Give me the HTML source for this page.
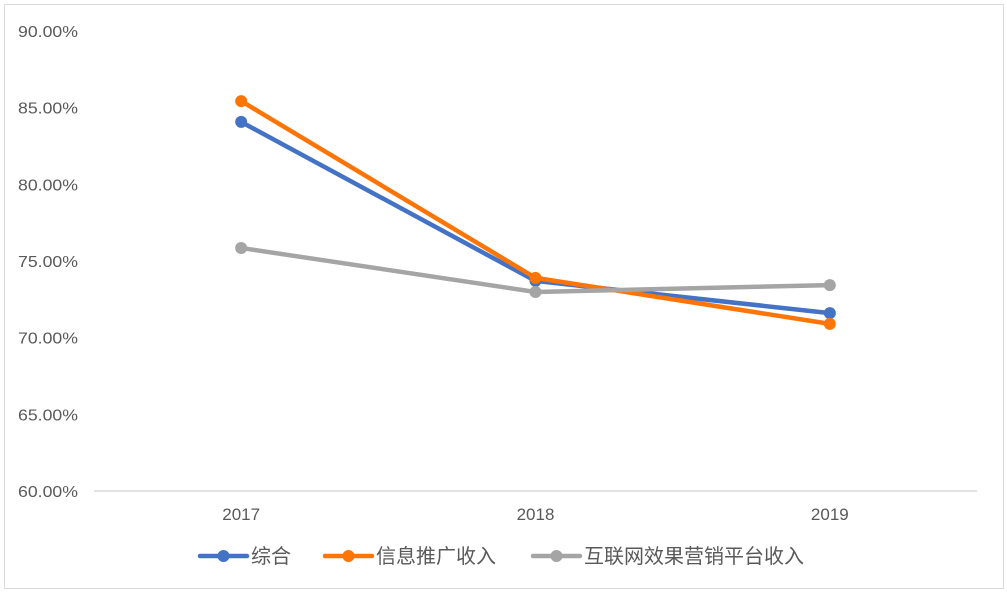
<!DOCTYPE html>
<html><head><meta charset="utf-8"><style>
html,body{margin:0;padding:0;background:#fff;}
svg text{font-family:"Liberation Sans","Noto Sans CJK SC",sans-serif;fill:#595959;}
</style></head><body>
<svg id="chart" width="1007" height="593" xmlns="http://www.w3.org/2000/svg">
<rect x="4.5" y="4.5" width="999" height="584" fill="#fff" stroke="#d9d9d9"/>
<g id="yaxis"></g><g id="xaxis"></g><g id="series"></g><g id="legend"></g>
</svg>
<script>
const categories=["2017","2018","2019"];
const yTicks=[60,65,70,75,80,85,90];
const seriesNames=["综合","信息推广收入","互联网效果营销平台收入"];
const seriesColors=["#4472c4","#fd7507","#a5a5a5"];
const zonghe=[84.07,73.7,71.6];
const xinxi=[85.43,73.9,70.9];
const hulian=[75.85,72.98,73.43];
const allSeries=[zonghe,xinxi,hulian];
const NS="http://www.w3.org/2000/svg";
const x0=94,x1=977,yTop=31,yBot=491,yMin=60,yMax=90;
const band=(x1-x0)/categories.length;
function xs(i){return x0+band*(i+0.5);}
function ys(v){return yBot-(v-yMin)/(yMax-yMin)*(yBot-yTop);}
function mk(tag,attrs,parent){const e=document.createElementNS(NS,tag);for(const k in attrs)e.setAttribute(k,attrs[k]);parent.appendChild(e);return e;}
const ya=document.getElementById('yaxis');
yTicks.forEach(t=>{const e=mk('text',{x:78,y:ys(t)+6,'text-anchor':'end','font-size':16,textLength:60,lengthAdjust:'spacingAndGlyphs'},ya);e.textContent=t.toFixed(2)+'%';

});
const xa=document.getElementById('xaxis');
const ax=mk('line',{x1:x0,x2:x1,y1:yBot,y2:yBot,stroke:'#d9d9d9','stroke-width':1.5},xa);


categories.forEach((c,i)=>{const e=mk('text',{x:xs(i),y:520,'text-anchor':'middle','font-size':17},xa);e.textContent=c;

});
const sg=document.getElementById('series');
allSeries.forEach((d,s)=>{
 const p=mk('polyline',{points:d.map((v,i)=>xs(i)+','+ys(v)).join(' '),fill:'none',stroke:seriesColors[s],'stroke-width':4.5,'stroke-linejoin':'round'},sg);
 
 
 d.forEach((v,i)=>{const c=mk('circle',{cx:xs(i),cy:ys(v),r:6,fill:seriesColors[s]},sg);
 
 });
});
const lg=document.getElementById('legend');
const lx=[200,325,533];
seriesNames.forEach((n,s)=>{
 const g=mk('g',{},lg);
 
 
 mk('line',{x1:lx[s],x2:lx[s]+47,y1:556,y2:556,stroke:seriesColors[s],'stroke-width':4.5,'stroke-linecap':'round'},g);
 mk('circle',{cx:lx[s]+23.5,cy:556,r:6,fill:seriesColors[s]},g);
 const t=mk('text',{x:lx[s]+51,y:563,'font-size':20},g);t.textContent=n;
});
</script>
</body></html>
